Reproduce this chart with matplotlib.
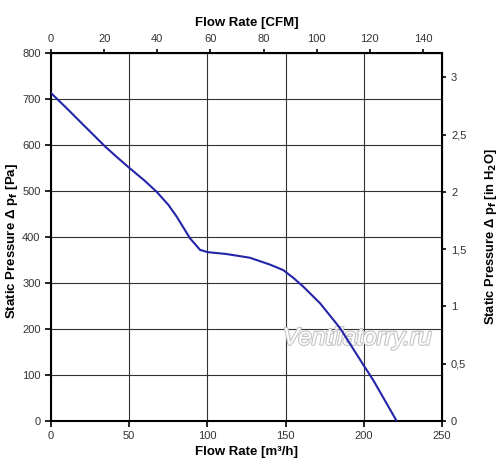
import matplotlib
matplotlib.use("Agg")
import matplotlib.pyplot as plt
import matplotlib.patheffects as pe
from matplotlib.ticker import FuncFormatter, FixedLocator

plt.rcParams['font.family'] = ['Liberation Sans', 'DejaVu Sans']

flow_m3h = [0, 10, 20, 34.5, 42, 50.5, 60, 67.6, 75, 80.4, 88.9, 92, 95.3, 100.2,
            112, 127, 140, 148.5, 155, 161.3, 172, 184.8, 199.7, 206, 221]
pressure_pa = [713, 680, 646, 597, 574, 549, 522, 498, 470, 444, 397, 385, 372, 367,
               363, 355, 340, 328, 311, 292, 256, 202, 122, 89, 0]

x_ticks = [0, 50, 100, 150, 200, 250]
y_ticks = [0, 100, 200, 300, 400, 500, 600, 700, 800]
cfm_ticks = [0, 20, 40, 60, 80, 100, 120, 140]
inh2o_ticks = [0, 0.5, 1, 1.5, 2, 2.5, 3]

M3H_PER_CFM = 1.699
PA_PER_INH2O = 249.09

fig = plt.figure(figsize=(5.0, 4.73), dpi=100)
ax = fig.add_axes([0.102, 0.110, 0.782, 0.778])

ax.plot(flow_m3h, pressure_pa, color='#2424a8', lw=1.5, zorder=4)

ax.set_xlim(0, 250)
ax.set_ylim(0, 800)
ax.set_xticks(x_ticks)
ax.set_yticks(y_ticks)
ax.grid(True, color='#333333', lw=0.8, zorder=1)
ax.set_axisbelow(True)
for s in ax.spines.values():
    s.set_linewidth(1.5)
    s.set_color('black')
ax.tick_params(axis='both', labelsize=8, colors='black', length=4, width=1.2,
               labelcolor='#333333')
ax.set_xlabel('Flow Rate [m³/h]', fontsize=9.5, fontweight='bold', labelpad=3)
ax.set_ylabel('Static Pressure Δ p$_\\mathbf{f}$ [Pa]', fontsize=9.5, fontweight='bold',
              va='center')
ax.yaxis.set_label_coords(-0.099, 0.49)

top = ax.secondary_xaxis('top', functions=(lambda q: q / M3H_PER_CFM, lambda c: c * M3H_PER_CFM))
top.xaxis.set_major_locator(FixedLocator(cfm_ticks))
top.tick_params(labelsize=8, length=3, width=1.2, labelcolor='#333333')
top.set_xlabel('Flow Rate [CFM]', fontsize=9.5, fontweight='bold', labelpad=6)

right = ax.secondary_yaxis('right', functions=(lambda p: p / PA_PER_INH2O, lambda h: h * PA_PER_INH2O))
right.yaxis.set_major_locator(FixedLocator(inh2o_ticks))
right.yaxis.set_major_formatter(FuncFormatter(lambda v, pos: ('%g' % v).replace('.', ',')))
right.tick_params(labelsize=8, length=3, width=1.2, labelcolor='#333333')
right.set_ylabel('Static Pressure Δ p$_\\mathbf{f}$ [in H$_\\mathbf{2}$O]', fontsize=9.3,
                 fontweight='bold', labelpad=12)

ax.text(0.783, 0.225, 'Ventilatorry.ru', transform=ax.transAxes, fontsize=17.5,
        style='italic', color='white', ha='center', va='center', zorder=3,
        path_effects=[pe.withStroke(linewidth=1.6, foreground='#c4c4c4')])

fig.savefig('out.png', dpi=100)
